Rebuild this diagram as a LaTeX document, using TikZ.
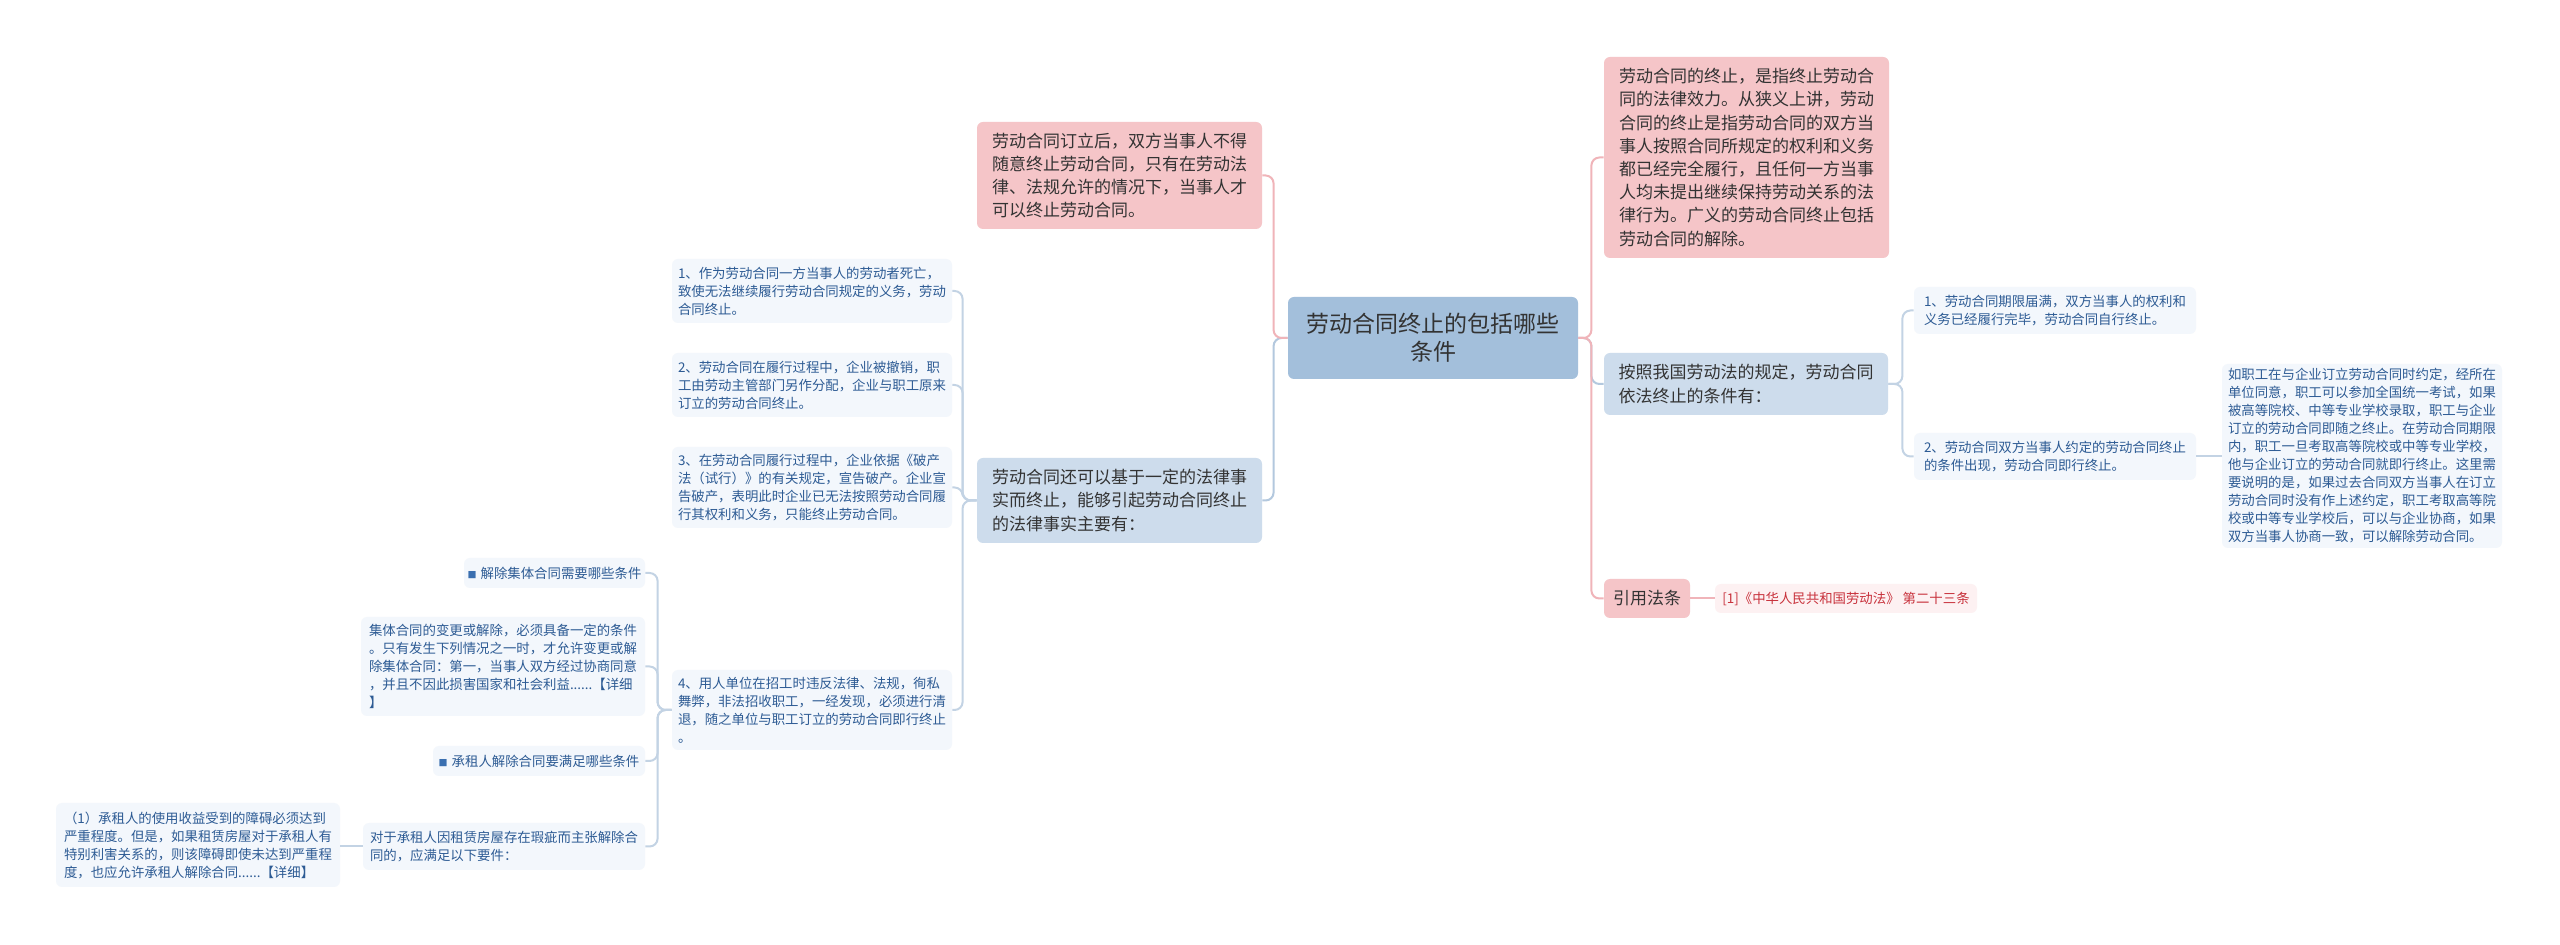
\documentclass[tikz,border=0pt]{standalone}
\usepackage{fontspec}
\setmainfont{Noto Sans CJK SC}
\definecolor{rootfill}{HTML}{A3BFDB}
\definecolor{pinkfill}{HTML}{F5C5C8}
\definecolor{bluefill}{HTML}{CDDCEC}
\definecolor{leaffill}{HTML}{F3F7FC}
\definecolor{leaftext}{HTML}{2D5B94}
\definecolor{textdark}{HTML}{333333}
\definecolor{citefill}{HTML}{FDF1F2}
\definecolor{citetext}{HTML}{C8323C}
\definecolor{pinkline}{HTML}{F0B4B9}
\definecolor{blueline}{HTML}{B3C8DE}
\definecolor{leafline}{HTML}{C3D3E4}
\definecolor{bulletblue}{HTML}{3A6FB0}
\newcommand{\sqbullet}{{\color{bulletblue}\fontsize{4.5pt}{4.5pt}\selectfont ■}\hspace{2pt}}
\begin{document}
\begin{tikzpicture}[x=0.5pt,y=-0.5pt,
  base/.style={rounded corners=3pt, inner sep=0pt, align=left, text=textdark},
  sz/.style 2 args={minimum width={(#1)*0.5pt}, minimum height={(#2)*0.5pt}},
  rootbox/.style={base, fill=rootfill, align=center, font=\fontsize{11.5pt}{14pt}\selectfont},
  pinkbox/.style={base, fill=pinkfill, font=\fontsize{8.5pt}{11.6pt}\selectfont},
  bluebox/.style={base, fill=bluefill, font=\fontsize{8.5pt}{11.6pt}\selectfont},
  leaf/.style={base, fill=leaffill, text=leaftext, font=\fontsize{6.7pt}{9pt}\selectfont},
  citebox/.style={base, fill=citefill, text=citetext, font=\fontsize{6.7pt}{9pt}\selectfont},
  pline/.style={draw=pinkline, line width=1pt, rounded corners=4pt},
  bline/.style={draw=blueline, line width=1pt, rounded corners=4pt},
  lline/.style={draw=leafline, line width=1pt, rounded corners=4pt}
]
\fill[white] (0,0) rectangle (2560,945);
\useasboundingbox (0,0) rectangle (2560,945);

% root
\node[rootbox, sz={290}{82}] (root) at (1433,338) {劳动合同终止的包括哪些\\条件};

% left main
\node[pinkbox, sz={285}{107}] (L1) at (1119.5,175.5) {劳动合同订立后，双方当事人不得\\随意终止劳动合同，只有在劳动法\\律、法规允许的情况下，当事人才\\可以终止劳动合同。};
\node[bluebox, sz={285}{85}] (L2) at (1119.5,500.5) {劳动合同还可以基于一定的法律事\\实而终止，能够引起劳动合同终止\\的法律事实主要有：};

% right main
\node[pinkbox, sz={285}{201}] (R1) at (1746.5,157.5) {劳动合同的终止，是指终止劳动合\\同的法律效力。从狭义上讲，劳动\\合同的终止是指劳动合同的双方当\\事人按照合同所规定的权利和义务\\都已经完全履行，且任何一方当事\\人均未提出继续保持劳动关系的法\\律行为。广义的劳动合同终止包括\\劳动合同的解除。};
\node[bluebox, sz={284}{62}] (R2) at (1746,384) {按照我国劳动法的规定，劳动合同\\依法终止的条件有：};
\node[pinkbox, sz={86}{39}] (R3) at (1647,598.5) {引用法条};
\node[citebox, sz={262}{29}] (cite) at (1846,598.5) {[1]《中华人民共和国劳动法》 第二十三条};

% right leaves
\node[leaf, sz={282}{47}] (Ra) at (2055,310.5) {1、劳动合同期限届满，双方当事人的权利和\\义务已经履行完毕，劳动合同自行终止。};
\node[leaf, sz={282}{47}] (Rb) at (2055,456.5) {2、劳动合同双方当事人约定的劳动合同终止\\的条件出现，劳动合同即行终止。};
\node[leaf, sz={280}{184}] (Rc) at (2362,456) {如职工在与企业订立劳动合同时约定，经所在\\单位同意，职工可以参加全国统一考试，如果\\被高等院校、中等专业学校录取，职工与企业\\订立的劳动合同即随之终止。在劳动合同期限\\内，职工一旦考取高等院校或中等专业学校，\\他与企业订立的劳动合同就即行终止。这里需\\要说明的是，如果过去合同双方当事人在订立\\劳动合同时没有作上述约定，职工考取高等院\\校或中等专业学校后，可以与企业协商，如果\\双方当事人协商一致，可以解除劳动合同。};

% left leaves
\node[leaf, sz={280}{64}] (La) at (812,291) {1、作为劳动合同一方当事人的劳动者死亡，\\致使无法继续履行劳动合同规定的义务，劳动\\合同终止。};
\node[leaf, sz={280}{64}] (Lb) at (812,385) {2、劳动合同在履行过程中，企业被撤销，职\\工由劳动主管部门另作分配，企业与职工原来\\订立的劳动合同终止。};
\node[leaf, sz={280}{81}] (Lc) at (812,487.5) {3、在劳动合同履行过程中，企业依据《破产\\法（试行）》的有关规定，宣告破产。企业宣\\告破产，表明此时企业已无法按照劳动合同履\\行其权利和义务，只能终止劳动合同。};
\node[leaf, sz={280}{80}] (Ld) at (812,710) {4、用人单位在招工时违反法律、法规，徇私\\舞弊，非法招收职工，一经发现，必须进行清\\退，随之单位与职工订立的劳动合同即行终止\\。};

\node[leaf, sz={181}{30}] (Da) at (554.5,573) {\sqbullet 解除集体合同需要哪些条件};
\node[leaf, sz={284}{99}] (Db) at (503,666.5) {集体合同的变更或解除，必须具备一定的条件\\。只有发生下列情况之一时，才允许变更或解\\除集体合同：第一，当事人双方经过协商同意\\，并且不因此损害国家和社会利益......【详细\\】};
\node[leaf, sz={212}{30}] (Dc) at (539,761) {\sqbullet 承租人解除合同要满足哪些条件};
\node[leaf, sz={282}{47}] (Dd) at (504,846.5) {对于承租人因租赁房屋存在瑕疵而主张解除合\\同的，应满足以下要件：};
\node[leaf, sz={284}{84}] (De) at (198,845) {（1）承租人的使用收益受到的障碍必须达到\\严重程度。但是，如果租赁房屋对于承租人有\\特别利害关系的，则该障碍即使未达到严重程\\度，也应允许承租人解除合同......【详细】};

% connectors: root level (blue first, pink over)
\draw[bline] (root.west) -- ++(-14,0) |- (L2.east);
\draw[bline] (root.east) -- ++(13,0) |- (R2.west);
\draw[pline] (root.west) -- ++(-14,0) |- (L1.east);
\draw[pline] (root.east) -- ++(13,0) |- (R1.west);
\draw[pline] (root.east) -- ++(13,0) |- (R3.west);
\draw[pline] (R3.east) -- (R3.east -| cite.west);

% L2 children
\foreach \c in {La,Lb,Lc,Ld}
  \draw[lline] (L2.west) -- ++(-14,0) |- (\c.east);
% R2 children
\foreach \c in {Ra,Rb}
  \draw[lline] (R2.east) -- ++(14,0) |- (\c.west);
\draw[lline] (Rb.east) -- (Rb.east -| Rc.west);
% Ld children
\foreach \c in {Da,Db,Dc,Dd}
  \draw[lline] (Ld.west) -- ++(-14,0) |- (\c.east);
\draw[lline] (Dd.west) -- (Dd.west -| De.east);
\end{tikzpicture}
\end{document}
